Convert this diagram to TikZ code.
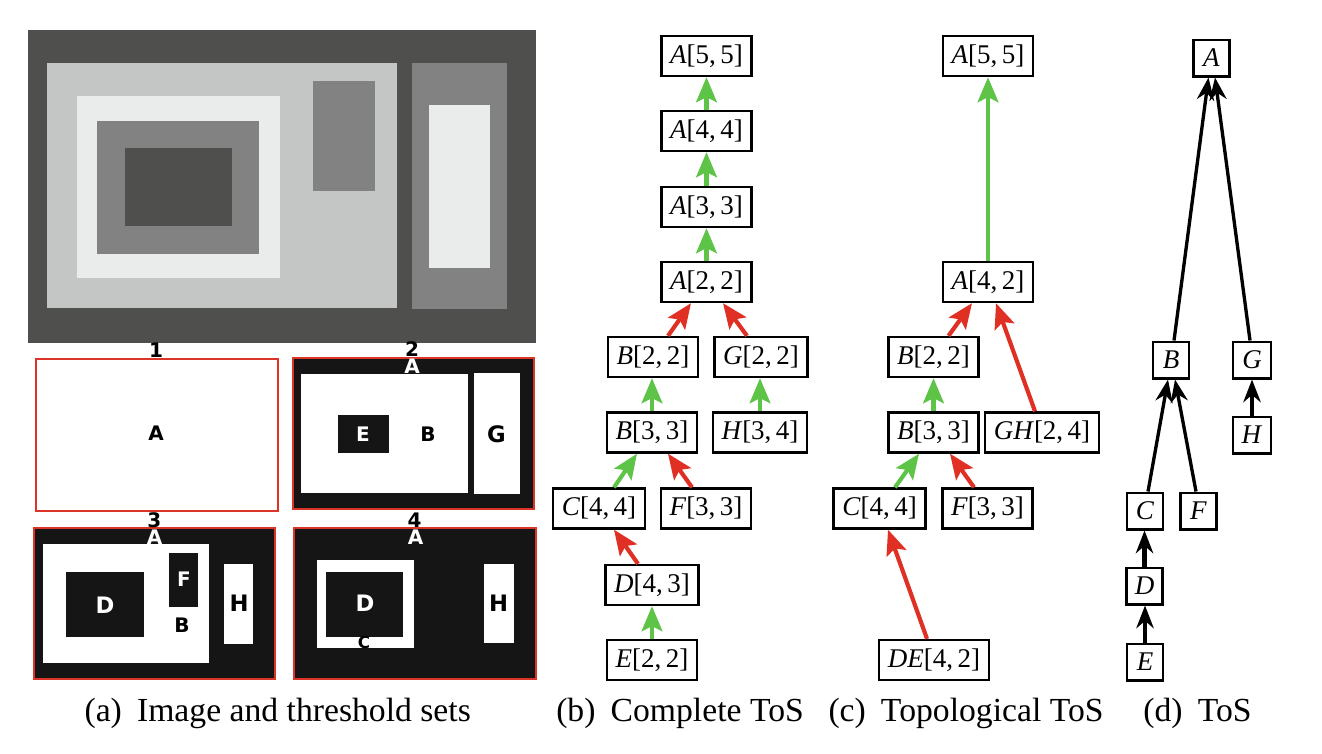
\documentclass[tikz,border=0pt]{standalone}
\usepackage{fontspec}
\setmainfont{Liberation Serif}
\newfontfamily\lblfont{DejaVu Sans}
\usetikzlibrary{arrows.meta,calc}
\definecolor{imgdark}{HTML}{4F4F4D}
\definecolor{imglight}{HTML}{C4C6C5}
\definecolor{imgmid}{HTML}{828282}
\definecolor{imgwhite}{HTML}{EAECEB}
\definecolor{panelblack}{HTML}{151515}
\definecolor{panelred}{HTML}{DC3528}
\definecolor{tosgreen}{HTML}{5DC448}
\definecolor{tosred}{HTML}{E03024}
\begin{document}
\begin{tikzpicture}[x=0.3pt,y=-0.3pt,
  tosnode/.style={draw=black,line width=0.7pt,fill=white,inner xsep=2.6pt,inner ysep=0pt,minimum height=12pt,font=\fontsize{8.1}{9.6}\selectfont},
  tnode/.style={draw=black,line width=0.7pt,fill=white,minimum width=10.8pt,minimum height=11pt,inner sep=0pt,font=\fontsize{8.1}{9.6}\selectfont},
  garrow/.style={draw=tosgreen,line width=1.25pt,-{Stealth[length=7.5pt,width=6.2pt,inset=1.5pt]}},
  rarrow/.style={draw=tosred,line width=1.25pt,-{Stealth[length=7.5pt,width=6.2pt,inset=1.5pt]}},
  karrow/.style={draw=black,line width=1pt,-{Stealth[length=6.8pt,width=5.2pt,inset=2.2pt]}},
  kvarrow/.style={karrow,line width=1.4pt},
  lbl/.style={font=\lblfont\bfseries\fontsize{6}{7}\selectfont,inner sep=0pt},
  biglbl/.style={font=\lblfont\bfseries\fontsize{6.8}{7.5}\selectfont,inner sep=0pt},
  smalllbl/.style={font=\lblfont\bfseries\fontsize{5}{5.5}\selectfont,inner sep=0pt},
  panel/.style={draw=panelred,line width=0.6pt},
  capt/.style={font=\fontsize{10.1}{12}\selectfont,anchor=base,inner sep=0pt}]
\useasboundingbox (0,0) rectangle (1322,753);

% ---------- (a) image ----------
\fill[imgdark] (28,30) rectangle (536,343);
\fill[imglight] (47,63) rectangle (397,308);
\fill[imgmid] (412,63) rectangle (507,309);
\fill[imgwhite] (429,105) rectangle (490,268);
\fill[imgmid] (313,81) rectangle (375,191);
\fill[imgwhite] (77,96) rectangle (280,278);
\fill[imgmid] (97,121) rectangle (259,254);
\fill[imgdark] (125,148) rectangle (232,226);

% panel 1
\draw[panel,fill=white] (35.6,358.7) rectangle (277.8,511);
\node[lbl] (n1) at (156,350) {1};
\node[lbl] (p1A) at (156,433) {A};

% panel 2
\draw[panel,fill=panelblack] (292.8,358.3) rectangle (533.6,509);
\fill[white] (300.6,374) rectangle (468,493);
\fill[white] (473.7,373) rectangle (520,494);
\fill[panelblack] (338,415) rectangle (389.4,453);
\node[lbl] (n2) at (412,349) {2};
\node[lbl,text=white] (p2A) at (412,366) {A};
\node[lbl,text=white] (p2E) at (363,434) {E};
\node[lbl] (p2B) at (428,434) {B};
\node[biglbl] (p2G) at (496.5,434) {G};

% panel 3
\draw[panel,fill=panelblack] (33.6,528.3) rectangle (274.8,679.3);
\fill[white] (43,544) rectangle (209,663);
\fill[panelblack] (66.3,572) rectangle (143.8,636.7);
\fill[panelblack] (169,553) rectangle (198.2,606.7);
\fill[white] (224,564) rectangle (253.3,643.7);
\node[lbl] (n3) at (154.4,520) {3};
\node[lbl,text=white] (p3A) at (154.7,537) {A};
\node[biglbl,text=white] (p3D) at (105,605) {D};
\node[lbl,text=white] (p3F) at (184,579) {F};
\node[lbl] (p3B) at (182,625) {B};
\node[biglbl] (p3H) at (239,603) {H};

% panel 4
\draw[panel,fill=panelblack] (294,528) rectangle (535.6,679);
\fill[white] (317,560) rectangle (413.5,647.7);
\fill[panelblack] (325.8,572) rectangle (403.3,636.7);
\fill[white] (484,564) rectangle (514,642.7);
\node[lbl] (n4) at (414.6,520) {4};
\node[lbl,text=white] (p4A) at (415.6,537) {A};
\node[biglbl,text=white] (p4D) at (365,603) {D};
\node[smalllbl] (p4C) at (364,642.7) {C};
\node[biglbl] (p4H) at (498.6,603) {H};

% ---------- (b) complete ToS ----------
\node[tosnode] (bA55) at (706.5,56) {\textit{A}[5,\,5]};
\node[tosnode] (bA44) at (706.5,131) {\textit{A}[4,\,4]};
\node[tosnode] (bA33) at (706.5,207) {\textit{A}[3,\,3]};
\node[tosnode] (bA22) at (706.5,282) {\textit{A}[2,\,2]};
\node[tosnode] (bB22) at (653,357) {\textit{B}[2,\,2]};
\node[tosnode] (bG22) at (761,357) {\textit{G}[2,\,2]};
\node[tosnode] (bB33) at (652,432.5) {\textit{B}[3,\,3]};
\node[tosnode] (bH34) at (760,432.5) {\textit{H}[3,\,4]};
\node[tosnode] (bC44) at (599,508.5) {\textit{C}[4,\,4]};
\node[tosnode] (bF33) at (706,508.5) {\textit{F}[3,\,3]};
\node[tosnode] (bD43) at (652,585) {\textit{D}[4,\,3]};
\node[tosnode] (bE22) at (652,660) {\textit{E}[2,\,2]};

\draw[garrow] (bA44.north) -- (bA55.south);
\draw[garrow] (bA33.north) -- (bA44.south);
\draw[garrow] (bA22.north) -- (bA33.south);
\draw[rarrow] ($(bB22.north)+(15,0)$) -- ($(bA22.south)+(-15.5,0)$);
\draw[rarrow] ($(bG22.north)+(-14,0)$) -- ($(bA22.south)+(16.5,0)$);
\draw[garrow] (bB33.north) -- (bB33.north |- bB22.south);
\draw[garrow] (bH34.north) -- (bH34.north |- bG22.south);
\draw[garrow] ($(bC44.north)+(15,0)$) -- ($(bB33.south)+(-15,0)$);
\draw[rarrow] ($(bF33.north)+(-14,0)$) -- ($(bB33.south)+(16,0)$);
\draw[rarrow] ($(bD43.north)+(-14,0)$) -- ($(bC44.south)+(15,0)$);
\draw[garrow] (bE22.north) -- (bD43.south);

% ---------- (c) topological ToS ----------
\node[tosnode] (cA55) at (988,56) {\textit{A}[5,\,5]};
\node[tosnode] (cA42) at (988,282) {\textit{A}[4,\,2]};
\node[tosnode] (cB22) at (933.5,357) {\textit{B}[2,\,2]};
\node[tosnode] (cB33) at (933.5,432.5) {\textit{B}[3,\,3]};
\node[tosnode] (cGH) at (1042,432.5) {\textit{GH}[2,\,4]};
\node[tosnode] (cC44) at (879.5,508.5) {\textit{C}[4,\,4]};
\node[tosnode] (cF33) at (987.5,508.5) {\textit{F}[3,\,3]};
\node[tosnode] (cDE) at (934,660) {\textit{DE}[4,\,2]};

\draw[garrow] (cA42.north) -- (cA55.south);
\draw[rarrow] ($(cB22.north)+(15,0)$) -- ($(cA42.south)+(-16,0)$);
\draw[rarrow] ($(cGH.north)+(-7,0)$) -- ($(cA42.south)+(8,0)$);
\draw[garrow] (cB33.north) -- (cB22.south);
\draw[garrow] ($(cC44.north)+(15.5,0)$) -- ($(cB33.south)+(-14.5,0)$);
\draw[rarrow] ($(cF33.north)+(-13.5,0)$) -- ($(cB33.south)+(16.5,0)$);
\draw[rarrow] ($(cDE.north)+(-7,0)$) -- ($(cC44.south)+(8.5,0)$);

% ---------- (d) ToS ----------
\node[tnode] (dA) at (1211.5,58) {\textit{A}};
\node[tnode] (dB) at (1171,360) {\textit{B}};
\node[tnode,minimum width=11.4pt] (dG) at (1252,360) {\textit{G}};
\node[tnode,minimum width=11.4pt] (dH) at (1252,435) {\textit{H}};
\node[tnode] (dC) at (1145,511) {\textit{C}};
\node[tnode] (dF) at (1198.5,511) {\textit{F}};
\node[tnode] (dD) at (1144.5,586) {\textit{D}};
\node[tnode] (dE) at (1145,662) {\textit{E}};

\draw[karrow] ($(dB.north)+(3,0)$) -- ($(dA.south)+(-3,0)$);
\draw[karrow] ($(dG.north)+(-2,0)$) -- ($(dA.south)+(3.5,0)$);
\draw[karrow] ($(dC.north)+(3,0)$) -- ($(dB.south)+(-3,0)$);
\draw[karrow] ($(dF.north)+(-2.5,0)$) -- ($(dB.south)+(4,0)$);
\draw[kvarrow] (dH.north) -- (dG.south);
\draw[kvarrow] (dD.north) -- (dD.north |- dC.south);
\draw[kvarrow] (dE.north) -- (dE.north |- dD.south);

% ---------- captions ----------
\node[capt] (capa) at (277.7,721.7) {(a)\hskip0.45em Image and threshold sets};
\node[capt] (capb) at (680,721.7) {(b)\hskip0.45em Complete ToS};
\node[capt] (capc) at (966,721.7) {(c)\hskip0.45em Topological ToS};
\node[capt] (capd) at (1197.5,721.7) {(d)\hskip0.45em ToS};
\end{tikzpicture}
\end{document}
